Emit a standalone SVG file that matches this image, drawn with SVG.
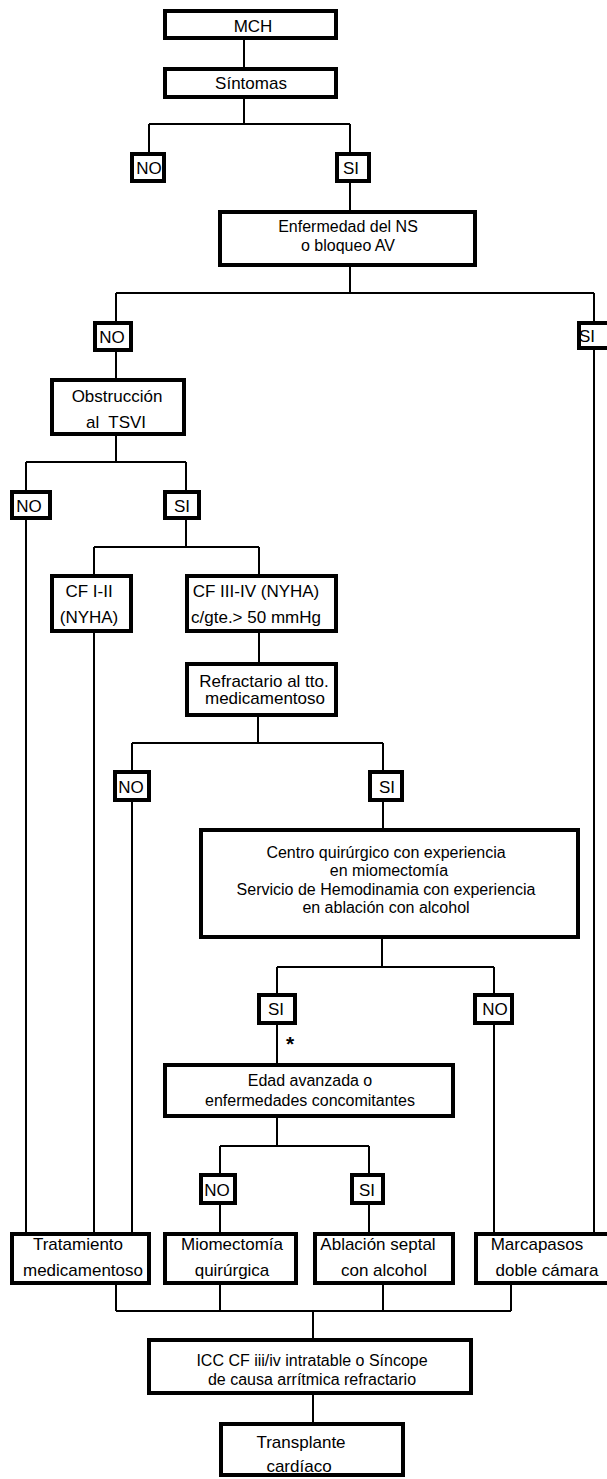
<svg xmlns="http://www.w3.org/2000/svg" width="607" height="1479" viewBox="0 0 607 1479">
<style>
.box{fill:#fff;stroke:#000;stroke-width:4}
.ln{stroke:#000;stroke-width:2;fill:none}
text{font-family:"Liberation Sans",Arial,sans-serif;font-size:17px;text-anchor:middle;fill:#000}
.s{font-size:16px}
.ast{font-size:21px;font-weight:bold}
</style>
<rect width="607" height="1479" fill="#fff"/>
<g id="connectors" class="ln">
<path d="M244 40V67"/>
<path d="M244 99V124M149 124H350M149 124V152M350 124V152"/>
<path d="M350 183V210"/>
<path d="M350 267V293M116 293H594M116 293V321M594 293V321"/>
<path d="M116 352V378"/>
<path d="M116 436V462M26 462H186M26 462V490M186 462V490"/>
<path d="M26 520V1232"/>
<path d="M186 520V547M94 547H259M94 547V574M259 547V574"/>
<path d="M94 633V1232"/>
<path d="M259 633V662"/>
<path d="M258 717V743M132 743H383M132 743V770M383 743V770"/>
<path d="M132 802V1232"/>
<path d="M383 802V828"/>
<path d="M382 939V967M277 967H494M277 967V993M494 967V993"/>
<path d="M277 1025V1063"/>
<path d="M494 1025V1232"/>
<path d="M277 1118V1146M220 1146H369M220 1146V1173M369 1146V1173"/>
<path d="M220 1205V1232M369 1205V1232"/>
<path d="M594 350V1232"/>
<path d="M116 1285V1311M220 1285V1311M383 1285V1311M511 1285V1311M116 1311H511"/>
<path d="M313 1311V1338"/>
<path d="M313 1395V1422"/>
</g>
<g id="n-mch"><rect class="box" x="165" y="11" width="171" height="27"/><text x="253" y="32">MCH</text></g>
<g id="n-sintomas"><rect class="box" x="165" y="69" width="171" height="28"/><text x="251" y="89">Síntomas</text></g>
<g id="n-no1"><rect class="box" x="132" y="154" width="32" height="27"/><text x="149" y="174">NO</text></g>
<g id="n-si1"><rect class="box" x="337" y="154" width="32" height="27"/><text x="351" y="174">SI</text></g>
<g id="n-enf"><rect class="box" x="220" y="212" width="255" height="53"/><text class="s" x="348" y="232">Enfermedad del NS</text><text class="s" x="348" y="251">o bloqueo AV</text></g>
<g id="n-no2"><rect class="box" x="95" y="323" width="36" height="27"/><text x="112" y="343">NO</text></g>
<g id="n-si2"><rect class="box" x="579" y="323" width="32" height="25"/><text x="587" y="342">SI</text></g>
<g id="n-obs"><rect class="box" x="52" y="380" width="132" height="54"/><text x="117" y="402">Obstrucción</text><text x="116" y="428" xml:space="preserve">al  TSVI</text></g>
<g id="n-no3"><rect class="box" x="12" y="492" width="38" height="26"/><text x="29" y="512">NO</text></g>
<g id="n-si3"><rect class="box" x="165" y="492" width="34" height="26"/><text x="182" y="512">SI</text></g>
<g id="n-cf12"><rect class="box" x="52" y="576" width="79" height="55"/><text x="89" y="597">CF I-II</text><text x="89" y="623">(NYHA)</text></g>
<g id="n-cf34"><rect class="box" x="187" y="576" width="149" height="55"/><text x="256" y="597">CF III-IV (NYHA)</text><text x="256" y="623">c/gte.&gt; 50 mmHg</text></g>
<g id="n-refr"><rect class="box" x="187" y="664" width="149" height="51"/><text x="264" y="687">Refractario al tto.</text><text x="265" y="704">medicamentoso</text></g>
<g id="n-no4"><rect class="box" x="115" y="772" width="34" height="28"/><text x="131" y="793">NO</text></g>
<g id="n-si4"><rect class="box" x="370" y="772" width="32" height="28"/><text x="387" y="793">SI</text></g>
<g id="n-centro"><rect class="box" x="201" y="830" width="377" height="107"/><text class="s" x="386" y="858">Centro quirúrgico con experiencia</text><text class="s" x="389" y="876">en miomectomía</text><text class="s" x="386" y="895">Servicio de Hemodinamia con experiencia</text><text class="s" x="386" y="913">en ablación con alcohol</text></g>
<g id="n-si5"><rect class="box" x="259" y="995" width="36" height="28"/><text x="276" y="1015">SI</text></g>
<text class="ast" x="290" y="1051">*</text>
<g id="n-no5"><rect class="box" x="475" y="995" width="37" height="28"/><text x="495" y="1015">NO</text></g>
<g id="n-edad"><rect class="box" x="165" y="1065" width="288" height="51"/><text class="s" x="310" y="1086">Edad avanzada o</text><text class="s" x="310" y="1106">enfermedades concomitantes</text></g>
<g id="n-no6"><rect class="box" x="201" y="1175" width="34" height="28"/><text x="217" y="1196">NO</text></g>
<g id="n-si6"><rect class="box" x="352" y="1175" width="31" height="28"/><text x="367" y="1196">SI</text></g>
<g id="n-trat"><rect class="box" x="12" y="1234" width="137" height="49"/><text x="78" y="1250">Tratamiento</text><text x="83" y="1276">medicamentoso</text></g>
<g id="n-mio"><rect class="box" x="165" y="1234" width="131" height="49"/><text x="232" y="1250">Miomectomía</text><text x="232" y="1276">quirúrgica</text></g>
<g id="n-abl"><rect class="box" x="315" y="1234" width="138" height="49"/><text x="378" y="1250">Ablación septal</text><text x="384" y="1276">con alcohol</text></g>
<g id="n-marc"><rect class="box" x="476" y="1234" width="140" height="49"/><text x="537" y="1250">Marcapasos</text><text x="547" y="1276">doble cámara</text></g>
<g id="n-icc"><rect class="box" x="149" y="1340" width="322" height="53"/><text class="s" x="312" y="1366">ICC CF iii/iv intratable o Síncope</text><text class="s" x="312" y="1385">de causa arrítmica refractario</text></g>
<g id="n-trans"><rect class="box" x="221" y="1424" width="182" height="51"/><text x="301" y="1448">Transplante</text><text x="299" y="1472">cardíaco</text></g>
</svg>
